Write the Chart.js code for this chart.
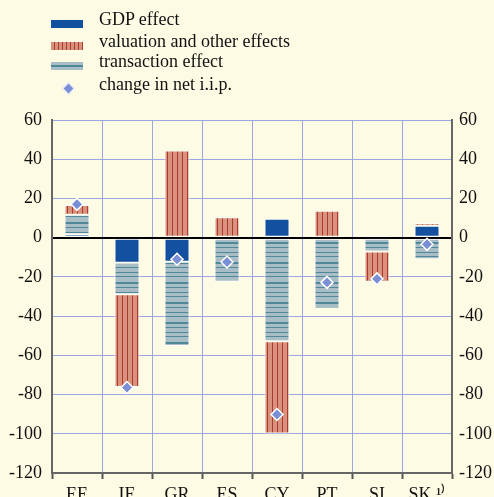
<!DOCTYPE html>
<html>
<head>
<meta charset="utf-8">
<script src="https://cdn.jsdelivr.net/npm/chart.js@4.4.1/dist/chart.umd.min.js"></script>
<style>
  html, body { margin: 0; padding: 0; background: #fefbe5; }
  #wrap { position: relative; width: 494px; height: 497px; overflow: hidden; }
  #chart { position: absolute; left: 0; top: 0; }
  .leg { position: absolute; left: 51px; font-family: "Liberation Serif", serif; font-size: 18px; color: #111; }
  .leg .sw { position: absolute; left: 0; width: 32px; height: 8px; }
  .leg span { position: absolute; left: 48px; top: -11px; white-space: nowrap; }
</style>
</head>
<body>
<div id="wrap">
  <canvas id="chart" width="494" height="497"></canvas>
  <div class="leg" style="top:20px"><div class="sw" style="background:#1450a0"></div><span>GDP effect</span></div>
  <div class="leg" style="top:42px"><div class="sw" style="background:repeating-linear-gradient(90deg,#d8927d 0 3px,#ad3a2e 3px 4px)"></div><span>valuation and other effects</span></div>
  <div class="leg" style="top:62px"><div class="sw" style="background:linear-gradient(#a9bdc6 0 3px,#4f8898 3px 5px,#a9bdc6 5px)"></div><span>transaction effect</span></div>
  <div class="leg" style="top:85px"><div class="sw" style="left:13px;top:-1px;width:7px;height:7px;background:#7b8fd6;border:1px solid #fff;transform:rotate(45deg)"></div><span>change in net i.i.p.</span></div>
</div>
<script>
const countries = ["EE", "IE", "GR", "ES", "CY", "PT", "SI", "SK \u00b9\u207e"];
const gdpEffect = [1.7, -12.8, -12.3, 0, 9.6, 0, 1, 6.1];
const transactionEffect = [10, -16, -43, -22.5, -52.8, -36.1, -7, -11];
const valuationEffect = [5, -47.4, 44.5, 10.4, -47, 13.7, -15.5, 1.4];
const changeNetIip = [17, -76.4, -11, -12.4, -90.2, -22.8, -21, -3.4];
const yTicks = [60, 40, 20, 0, -20, -40, -60, -80, -100, -120];

function makePattern(w, h, base, draw) {
  const c = document.createElement("canvas");
  c.width = w;
  c.height = h;
  const g = c.getContext("2d");
  g.fillStyle = base;
  g.fillRect(0, 0, w, h);
  draw(g);
  return g.createPattern(c, "repeat");
}

const ctx = document.getElementById("chart").getContext("2d");

const valPattern = makePattern(5, 10, "#d8927d", g => {
  g.fillStyle = "#ad3a2e";
  g.fillRect(2, 0, 1, 10);
});
const transPattern = makePattern(10, 20, "#a9bdc6", g => {
  g.fillStyle = "#4f8898";
  g.fillRect(0, 2, 10, 2);
  g.fillRect(0, 7, 10, 1);
  g.fillRect(0, 12, 10, 1);
  g.fillRect(0, 16, 10, 1);
});

const barCommon = {
  borderColor: "rgba(255,255,255,0.85)",
  borderWidth: 1,
  borderSkipped: false,
  barPercentage: 0.5,
  categoryPercentage: 1,
  order: 1
};

const tickFont = { family: "Liberation Serif", size: 18 };

new Chart(ctx, {
  type: "bar",
  data: {
    labels: countries,
    datasets: [
      Object.assign({ label: "GDP effect", data: gdpEffect, backgroundColor: "#1450a0" }, barCommon),
      Object.assign({ label: "transaction effect", data: transactionEffect, backgroundColor: transPattern }, barCommon),
      Object.assign({ label: "valuation and other effects", data: valuationEffect, backgroundColor: valPattern }, barCommon),
      {
        type: "line",
        label: "change in net i.i.p.",
        data: changeNetIip,
        showLine: false,
        stack: "iip",
        order: 0,
        pointStyle: "rectRot",
        pointRadius: 6,
        pointBackgroundColor: "#7b8fd6",
        pointBorderColor: "#ffffff",
        pointBorderWidth: 1.5
      }
    ]
  },
  options: {
    responsive: false,
    animation: false,
    layout: { padding: { top: 120 } },
    plugins: { legend: { display: false }, tooltip: { enabled: false } },
    scales: {
      x: {
        stacked: true,
        offset: true,
        grid: { offset: true, color: "#9ba6e4", lineWidth: 1, drawTicks: true, tickLength: 6, tickColor: "#555", tickWidth: 2 },
        border: { display: true, color: "#666", width: 2 },
        ticks: { color: "#111", font: tickFont, padding: 5 },
        afterFit: s => { s.height = 24; }
      },
      y: {
        stacked: true,
        position: "left",
        min: -120,
        max: 60,
        afterBuildTicks: s => { s.ticks = yTicks.map(v => ({ value: v })); },
        grid: {
          color: c => (c.tick && c.tick.value === 0 ? "#000" : "#9ba6e4"),
          lineWidth: c => (c.tick && c.tick.value === 0 ? 2 : 1),
          drawTicks: false
        },
        border: { display: true, color: "#666", width: 2 },
        ticks: { color: "#111", font: tickFont, padding: 10 },
        afterFit: s => { s.width = 52; }
      },
      y2: {
        position: "right",
        min: -120,
        max: 60,
        afterBuildTicks: s => { s.ticks = yTicks.map(v => ({ value: v })); },
        grid: { display: false, drawTicks: false },
        border: { display: true, color: "#666", width: 2 },
        ticks: { color: "#111", font: tickFont, padding: 7 },
        afterFit: s => { s.width = 42; }
      }
    }
  }
});
</script>
</body>
</html>
